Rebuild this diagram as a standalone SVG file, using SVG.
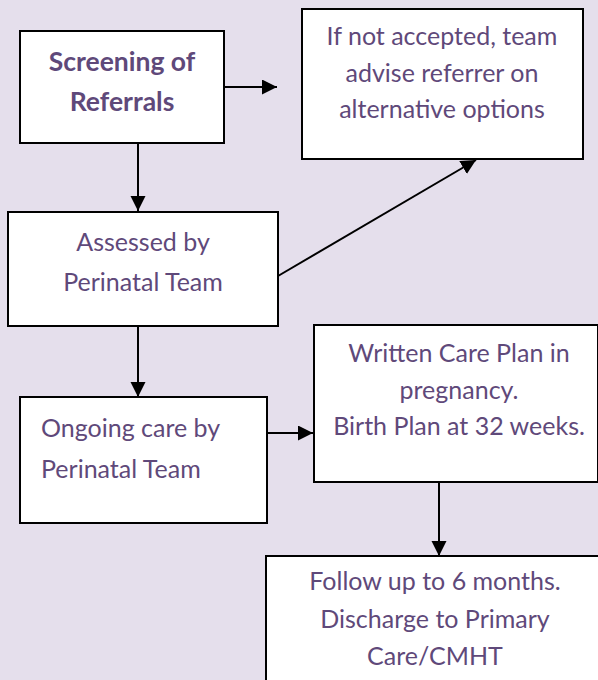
<svg xmlns="http://www.w3.org/2000/svg" width="598" height="680" viewBox="0 0 598 680">
<style>
.box{fill:#ffffff;stroke:#000000;stroke-width:2}
.t{font-family:Lato,"Open Sans",sans-serif;font-size:25px;fill:#5f497a;text-anchor:middle}
.b{font-weight:bold;font-size:26.5px}
.l{text-anchor:start}
.c{stroke:#000000;stroke-width:2;fill:none;marker-end:url(#ah)}
</style>
<defs>
<marker id="ah" markerWidth="16" markerHeight="16" refX="15" refY="7.5" orient="auto" markerUnits="userSpaceOnUse">
<path d="M0,0 L15,7.5 L0,15 Z" fill="#000000"/>
</marker>
</defs>
<rect x="0" y="0" width="598" height="680" fill="#e5dfec"/>
<g id="connectors">
<line class="c" x1="224" y1="87" x2="277" y2="87"/>
<line class="c" x1="138" y1="143" x2="138" y2="211"/>
<line class="c" x1="278" y1="276" x2="476" y2="160"/>
<line class="c" x1="138" y1="326" x2="138" y2="397"/>
<line class="c" x1="267" y1="433" x2="313" y2="433"/>
<line class="c" x1="439" y1="482" x2="439" y2="556"/>
</g>
<g id="screening">
<rect class="box" x="20" y="31" width="204" height="112"/>
<text class="t b" x="122" y="71">Screening of</text>
<text class="t b" x="122" y="111">Referrals</text>
</g>
<g id="not-accepted">
<rect class="box" x="302" y="9" width="281" height="150"/>
<text class="t" x="442" y="45">If not accepted, team</text>
<text class="t" x="442" y="82">advise referrer on</text>
<text class="t" x="442" y="118">alternative options</text>
</g>
<g id="assessed">
<rect class="box" x="8" y="212" width="270" height="114"/>
<text class="t" x="143" y="251">Assessed by</text>
<text class="t" x="143" y="291">Perinatal Team</text>
</g>
<g id="ongoing">
<rect class="box" x="20" y="397" width="247" height="126"/>
<text class="t l" x="41" y="437">Ongoing care by</text>
<text class="t l" x="41" y="478">Perinatal Team</text>
</g>
<g id="care-plan">
<rect class="box" x="314" y="325" width="284" height="157"/>
<text class="t" x="459" y="362">Written Care Plan in</text>
<text class="t" x="459" y="399">pregnancy.</text>
<text class="t" x="459" y="435">Birth Plan at 32 weeks.</text>
</g>
<g id="follow-up">
<rect class="box" x="266" y="556" width="340" height="140"/>
<text class="t" x="435" y="590">Follow up to 6 months.</text>
<text class="t" x="435" y="628">Discharge to Primary</text>
<text class="t" x="435" y="665">Care/CMHT</text>
</g>
</svg>
